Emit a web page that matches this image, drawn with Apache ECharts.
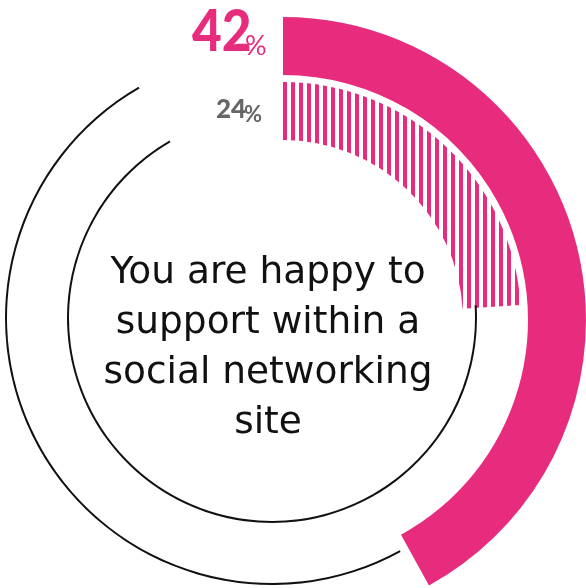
<!DOCTYPE html>
<html>
<head>
<meta charset="utf-8">
<script src="https://cdn.jsdelivr.net/npm/echarts@6/dist/echarts.min.js"></script>
<style>
  html, body { margin: 0; padding: 0; background: #fff; }
  #chart { width: 586px; height: 588px; }
</style>
</head>
<body>
<div id="chart"></div>
<script>
// Shares shown on the two rings (percent of respondents)
const ringNames = ['Outer', 'Inner'];
const shares = [42, 24];
const caption = ['You are happy to', 'support within a', 'social networking', 'site'];

const PINK = '#E72C7E';
const GREY = '#666666';
const TRACK_END_DEG = 330; // thin tracks stop short of 12 o'clock to leave room for the labels

// Vertical stripe fill for the inner ring
function stripePattern() {
  const c = document.createElement('canvas');
  c.width = 8; c.height = 8;
  const ctx = c.getContext('2d');
  ctx.fillStyle = PINK;
  ctx.fillRect(3, 0, 4, 8);
  return c;
}

const none = { color: 'transparent' };
const base = {
  type: 'pie', startAngle: 90, clockwise: true, silent: true,
  label: { show: false }, labelLine: { show: false },
  emphasis: { disabled: true }, animation: false
};

function valueRing(v, center, radius, color) {
  return Object.assign({}, base, {
    center, radius,
    itemStyle: { borderWidth: 0 },
    data: [
      { value: v, itemStyle: { color } },
      { value: 100 - v, itemStyle: none }
    ]
  });
}

function trackRing(v, center, radius) {
  const endPct = TRACK_END_DEG / 3.6;
  return Object.assign({}, base, {
    center, radius,
    itemStyle: { borderWidth: 0 },
    data: [
      { value: v, itemStyle: none },
      { value: endPct - v, itemStyle: { color: '#111' } },
      { value: 100 - endPct, itemStyle: none }
    ]
  });
}

// Big number followed by a small percent sign, tucked in tight
function percentLabel(v, num, pct, color) {
  return [
    {
      type: 'text', x: num.x, y: num.y, scaleX: num.squeeze, scaleY: 1,
      style: {
        text: String(v), fontFamily: 'Lato', fontWeight: 900, fontSize: num.size,
        fill: color, verticalAlign: 'top'
      }
    },
    {
      type: 'text', x: pct.x, y: pct.y,
      style: {
        text: '%', fontFamily: 'Lato', fontWeight: pct.weight, fontSize: pct.size,
        fill: color, verticalAlign: 'top'
      }
    }
  ];
}

const chart = echarts.init(document.getElementById('chart'), null, { renderer: 'canvas' });

chart.setOption({
  backgroundColor: '#fff',
  series: [
    valueRing(shares[0], [283, 320], [245, 303], PINK),
    valueRing(shares[1], [283, 320], [180, 238], { image: stripePattern(), repeat: 'repeat' }),
    trackRing(shares[0], [272, 318], [265, 267]),
    trackRing(shares[1], [272, 318], [203, 205])
  ],
  graphic: [].concat(
    percentLabel(shares[0], { x: 192, y: 4, size: 57, squeeze: 0.9 }, { x: 245, y: 33, size: 27, weight: 'normal' }, PINK),
    percentLabel(shares[1], { x: 216, y: 97, size: 26, squeeze: 1 }, { x: 244, y: 104, size: 22, weight: 'bold' }, GREY),
    [{
      type: 'text', x: 268, y: 348,
      style: {
        text: caption.join('\n'),
        fontFamily: 'DejaVu Sans', fontSize: 37.5, lineHeight: 50,
        fill: '#111', align: 'center', verticalAlign: 'middle'
      }
    }]
  )
});
</script>
</body>
</html>
